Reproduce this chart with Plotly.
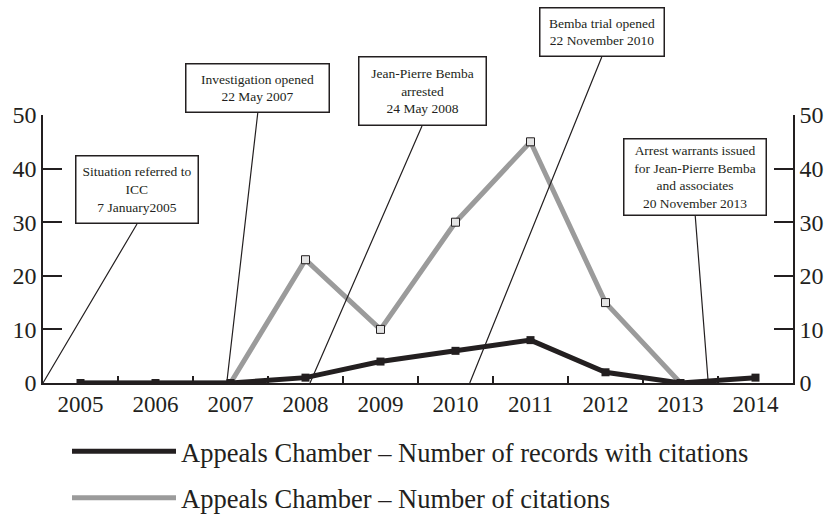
import plotly.graph_objects as go

# data
years = ["2005", "2006", "2007", "2008", "2009", "2010", "2011", "2012", "2013", "2014"]
records_with_citations = [0, 0, 0, 1, 4, 6, 8, 2, 0, 1]
number_of_citations = [0, 0, 0, 23, 10, 30, 45, 15, 0, None]

# events: (label, category position of the arrow head)
event_labels = [
    "Situation referred to<br>ICC<br>7 January2005",
    "Investigation opened<br>22 May 2007",
    "Jean-Pierre Bemba<br>arrested<br>24 May 2008",
    "Bemba trial opened<br>22 November 2010",
    "Arrest warrants issued<br>for Jean-Pierre Bemba<br>and associates<br>20 November 2013",
]
event_pos = [-0.5, 1.95, 3.06, 5.19, 8.37]

BLACK = "#231f20"
GREY = "#9b9b9b"
FONT = "Liberation Serif, Times New Roman, Times, serif"

fig = go.Figure()

# citations (grey) under the records line
fig.add_trace(go.Scatter(
    x=years, y=number_of_citations, mode="lines",
    line=dict(color=GREY, width=5), name="Appeals Chamber \u2013 Number of citations",
    legendgroup="b", legendrank=2,
))
fig.add_trace(go.Scatter(
    x=years[3:8], y=number_of_citations[3:8], mode="markers",
    marker=dict(symbol="square", size=8, color="#e4e4e4", line=dict(color=BLACK, width=1)),
    showlegend=False,
))
fig.add_trace(go.Scatter(
    x=years, y=records_with_citations, mode="lines", yaxis="y2",
    line=dict(color=BLACK, width=5), name="Appeals Chamber \u2013 Number of records with citations",
    legendgroup="a", legendrank=1,
))
fig.add_trace(go.Scatter(
    x=years, y=records_with_citations, mode="markers", yaxis="y2",
    marker=dict(symbol="square", size=8, color=BLACK),
    showlegend=False,
))

# (tail offset x, tail offset y, box width, box height) in pixels
boxes = [
    (94, -159, 117, 62),
    (31, -270, 138, 43),
    (112, -257, 122, 63),
    (132, -326, 119, 43),
    (-13, -167, 137, 71),
]
for label, pos, (ax, ay, w, h) in zip(event_labels, event_pos, boxes):
    fig.add_annotation(
        x=pos, y=0, xref="x", yref="y", text=label,
        showarrow=True, arrowhead=0, arrowwidth=1.2, arrowcolor=BLACK,
        ax=ax, ay=ay, xanchor="center", yanchor="bottom",
        width=w, height=h, align="center", valign="middle",
        bordercolor=BLACK, borderwidth=1.5, borderpad=2, bgcolor="white",
        font=dict(family=FONT, size=13.5, color=BLACK),
    )

axis_common = dict(
    range=[0, 50], dtick=10, showgrid=False, zeroline=False,
    showline=True, linecolor=BLACK, linewidth=1.5,
    ticks="inside", ticklen=19, tickwidth=1.5, tickcolor=BLACK,
    tickfont=dict(family=FONT, size=24, color=BLACK),
)

fig.update_layout(
    width=827, height=515,
    margin=dict(l=43, r=34, t=115, b=132, autoexpand=False),
    paper_bgcolor="white", plot_bgcolor="white",
    font=dict(family=FONT, color=BLACK),
    xaxis=dict(
        type="category", range=[-0.5, 9.5], tickson="boundaries",
        showgrid=False, showline=True, linecolor=BLACK, linewidth=1.5,
        ticks="inside", ticklen=7, tickwidth=1.5, tickcolor=BLACK,
        tickfont=dict(family=FONT, size=23, color=BLACK),
    ),
    yaxis=dict(side="left", **axis_common),
    yaxis2=dict(side="right", overlaying="y", **axis_common),
    showlegend=True,
    legend=dict(
        orientation="v", x=0.032, y=-0.166, xanchor="left", yanchor="top",
        itemwidth=104, tracegroupgap=9, traceorder="grouped",
        font=dict(family=FONT, size=26.5, color=BLACK),
        bgcolor="rgba(0,0,0,0)",
    ),
)

fig.write_html(
    "out.html",
    config={"displayModeBar": False},
    post_script="document.body.style.margin='0';",
)
